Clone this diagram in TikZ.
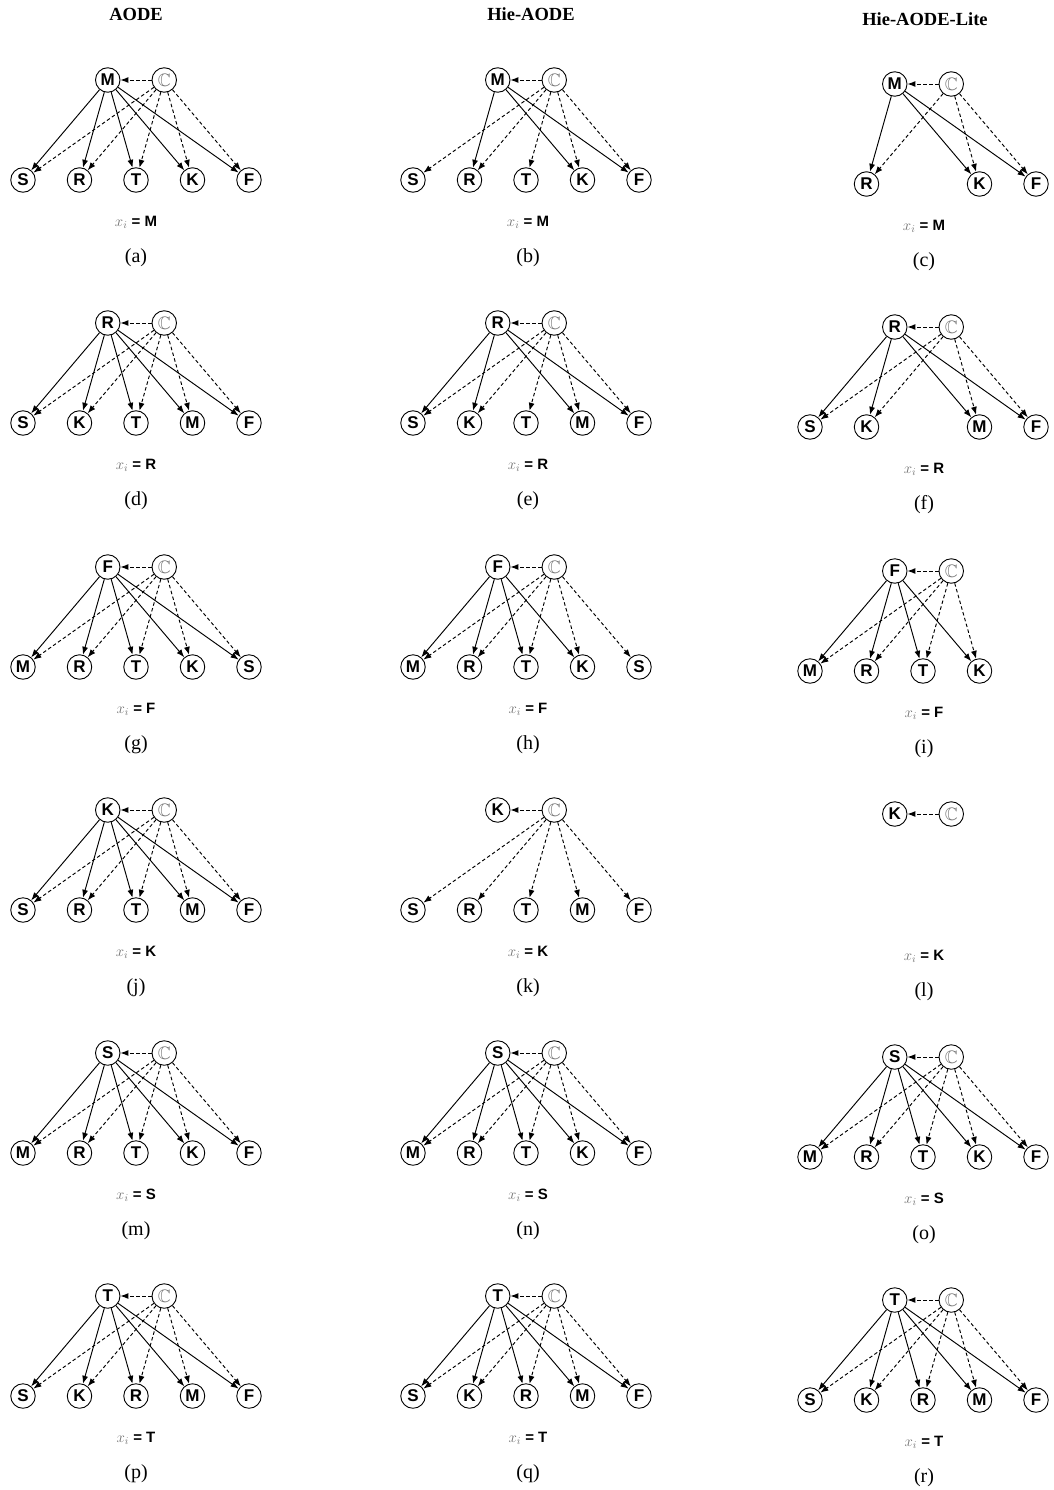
\RequirePackage{fix-cm}
\documentclass[tikz,border=0pt]{standalone}
\usepackage{fontspec}
\setmainfont{Liberation Serif}
\setsansfont{Liberation Sans}
\usepackage{amssymb}
\usetikzlibrary{arrows.meta}
\newcommand\sepx{56.5}
\newcommand\mkhead[6]{% prefix, x0, ytop, top letter, label x, sub letter
  \node[vn] (#1-top) at ({#2+1.5*\sepx},#3) {#4};
  \node[cn] (#1-C) at ({#2+2.5*\sepx},#3) {$\mathbb{C}$};
  \draw[dsh] (#1-C) -- (#1-top);
  \node[lab] (#1-x) at (#5,{#3+142}) {\textcolor{black!55}{$x_i$} = #4};
  \node[sub] (#1-s) at (#5,{#3+178}) {(#6)};
}
\newcommand\mkbottom[4]{% prefix, x0, ytop, list idx/letter
  \foreach \i/\l in {#4} {\node[vn] (#1-\l) at ({#2+\i*\sepx},{#3+100}) {\l};}
}
\newcommand\mksolid[2]{\foreach \l in {#2} {\draw[sol] (#1-top) -- (#1-\l);}}
\newcommand\mkdash[2]{\foreach \l in {#2} {\draw[dsh] (#1-C) -- (#1-\l);}}
\begin{document}
\begin{tikzpicture}[x=1pt,y=-1pt,
  vn/.style={circle,draw,line width=0.9pt,minimum size=24.5pt,inner sep=0pt,font=\sffamily\bfseries\fontsize{17}{17}\selectfont},
  cn/.style={vn,text=black!55,font=\fontsize{18}{18}\selectfont},
  sol/.style={line width=0.95pt,-{Latex[length=8pt,width=6pt]}},
  dsh/.style={sol,dash pattern=on 3.5pt off 2.5pt},
  lab/.style={font=\sffamily\bfseries\fontsize{15}{15}\selectfont},
  sub/.style={font=\fontsize{20}{20}\selectfont},
  hd/.style={font=\bfseries\fontsize{18.5}{18.5}\selectfont}]
\useasboundingbox (0,0) rectangle (1053,1490);
\node[hd] (h1) at (136,14) {AODE};
\node[hd] (h2) at (531,14) {Hie-AODE};
\node[hd] (h3) at (925,19) {Hie-AODE-Lite};
% ---- row 1
\mkhead{a}{23}{80}{M}{136}{a}
\mkbottom{a}{23}{80}{0/S,1/R,2/T,3/K,4/F}
\mkdash{a}{S,R,T,K,F}\mksolid{a}{S,R,T,K,F}
\mkhead{b}{413}{80}{M}{528}{b}
\mkbottom{b}{413}{80}{0/S,1/R,2/T,3/K,4/F}
\mkdash{b}{S,R,T,K,F}\mksolid{b}{R,K,F}
\mkhead{c}{810}{84}{M}{924}{c}
\mkbottom{c}{810}{84}{1/R,3/K,4/F}
\mkdash{c}{R,K,F}\mksolid{c}{R,K,F}
% ---- row 2
\mkhead{d}{23}{323}{R}{136}{d}
\mkbottom{d}{23}{323}{0/S,1/K,2/T,3/M,4/F}
\mkdash{d}{S,K,T,M,F}\mksolid{d}{S,K,T,M,F}
\mkhead{e}{413}{323}{R}{528}{e}
\mkbottom{e}{413}{323}{0/S,1/K,2/T,3/M,4/F}
\mkdash{e}{S,K,T,M,F}\mksolid{e}{S,K,M,F}
\mkhead{f}{810}{327}{R}{924}{f}
\mkbottom{f}{810}{327}{0/S,1/K,3/M,4/F}
\mkdash{f}{S,K,M,F}\mksolid{f}{S,K,M,F}
% ---- row 3
\mkhead{g}{23}{567}{F}{136}{g}
\mkbottom{g}{23}{567}{0/M,1/R,2/T,3/K,4/S}
\mkdash{g}{M,R,T,K,S}\mksolid{g}{M,R,T,K,S}
\mkhead{h}{413}{567}{F}{528}{h}
\mkbottom{h}{413}{567}{0/M,1/R,2/T,3/K,4/S}
\mkdash{h}{M,R,T,K,S}\mksolid{h}{M,R,T,K}
\mkhead{i}{810}{571}{F}{924}{i}
\mkbottom{i}{810}{571}{0/M,1/R,2/T,3/K}
\mkdash{i}{M,R,T,K}\mksolid{i}{M,R,T,K}
% ---- row 4
\mkhead{j}{23}{810}{K}{136}{j}
\mkbottom{j}{23}{810}{0/S,1/R,2/T,3/M,4/F}
\mkdash{j}{S,R,T,M,F}\mksolid{j}{S,R,T,M,F}
\mkhead{k}{413}{810}{K}{528}{k}
\mkbottom{k}{413}{810}{0/S,1/R,2/T,3/M,4/F}
\mkdash{k}{S,R,T,M,F}
\mkhead{l}{810}{814}{K}{924}{l}
% ---- row 5
\mkhead{m}{23}{1053}{S}{136}{m}
\mkbottom{m}{23}{1053}{0/M,1/R,2/T,3/K,4/F}
\mkdash{m}{M,R,T,K,F}\mksolid{m}{M,R,T,K,F}
\mkhead{n}{413}{1053}{S}{528}{n}
\mkbottom{n}{413}{1053}{0/M,1/R,2/T,3/K,4/F}
\mkdash{n}{M,R,T,K,F}\mksolid{n}{M,R,T,K,F}
\mkhead{o}{810}{1057}{S}{924}{o}
\mkbottom{o}{810}{1057}{0/M,1/R,2/T,3/K,4/F}
\mkdash{o}{M,R,T,K,F}\mksolid{o}{M,R,T,K,F}
% ---- row 6
\mkhead{p}{23}{1296}{T}{136}{p}
\mkbottom{p}{23}{1296}{0/S,1/K,2/R,3/M,4/F}
\mkdash{p}{S,K,R,M,F}\mksolid{p}{S,K,R,M,F}
\mkhead{q}{413}{1296}{T}{528}{q}
\mkbottom{q}{413}{1296}{0/S,1/K,2/R,3/M,4/F}
\mkdash{q}{S,K,R,M,F}\mksolid{q}{S,K,R,M,F}
\mkhead{r}{810}{1300}{T}{924}{r}
\mkbottom{r}{810}{1300}{0/S,1/K,2/R,3/M,4/F}
\mkdash{r}{S,K,R,M,F}\mksolid{r}{S,K,R,M,F}
\end{tikzpicture}
\end{document}
